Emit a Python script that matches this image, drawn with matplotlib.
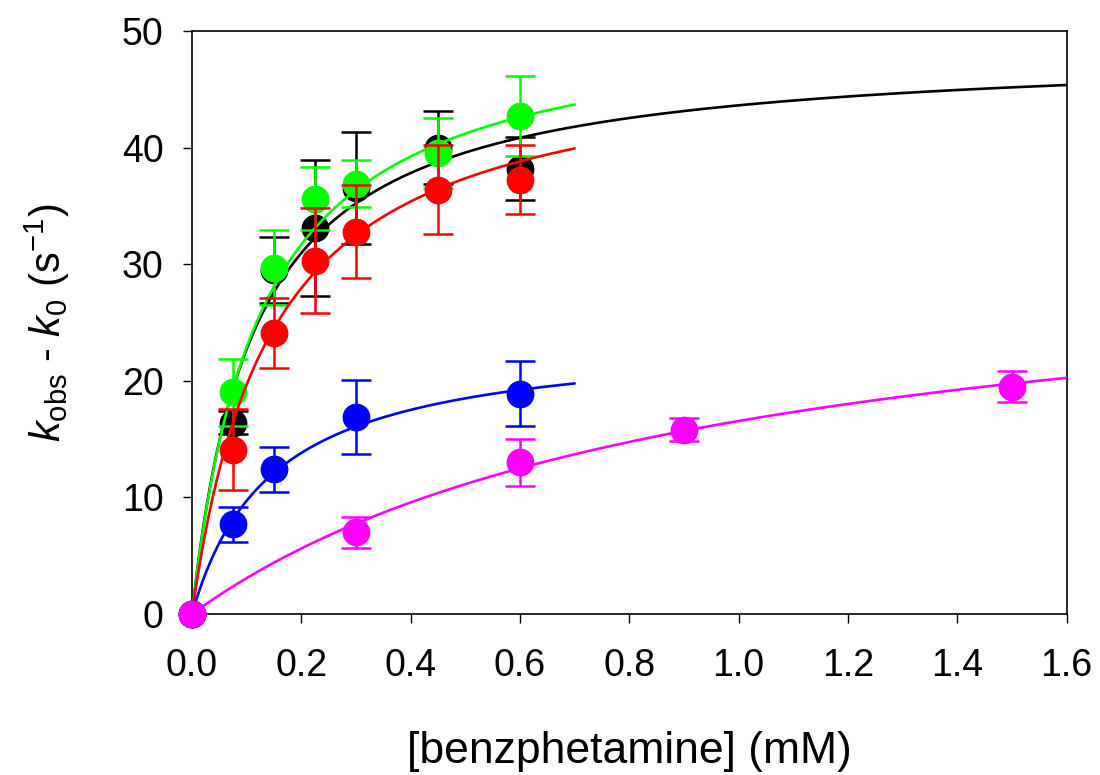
import numpy as np
import matplotlib
matplotlib.use("Agg")
import matplotlib.pyplot as plt

plt.rcParams["font.family"] = ["Liberation Sans", "DejaVu Sans"]
plt.rcParams["mathtext.fontset"] = "custom"
plt.rcParams["mathtext.rm"] = "Liberation Sans"
plt.rcParams["mathtext.it"] = "Liberation Sans:italic"

# substrate concentrations (mM)
conc_full = [0, 0.075, 0.15, 0.225, 0.3, 0.45, 0.6]
conc_blue = [0, 0.075, 0.15, 0.3, 0.6]
conc_magenta = [0, 0.3, 0.6, 0.9, 1.5]

# kobs - k0 (s^-1) and error bars
black_k = [0, 16.4, 29.5, 33.1, 36.5, 40.0, 38.2]
black_err = [0, 1.0, 2.8, 5.8, 4.8, 3.1, 2.7]
green_k = [0, 19.0, 29.7, 35.6, 36.9, 39.5, 42.7]
green_err = [0, 2.9, 3.2, 2.7, 2.0, 3.0, 3.45]
red_k = [0, 14.1, 24.1, 30.3, 32.8, 36.4, 37.25]
red_err = [0, 3.5, 3.0, 4.5, 4.0, 3.8, 2.95]
blue_k = [0, 7.7, 12.4, 16.9, 18.9]
blue_err = [0, 1.5, 1.9, 3.2, 2.8]
magenta_k = [0, 7.0, 13.0, 15.8, 19.5]
magenta_err = [0, 1.35, 2.0, 1.0, 1.3]

# hyperbolic fits: kmax, Km (mM), end of fitted range (mM)
fit_kmax = [48.6, 51.5, 48.2, 23.9, 32.25]
fit_km = [0.114, 0.125, 0.145, 0.146, 0.948]
fit_end = [1.6, 0.7, 0.7, 0.7, 1.6]

series = [
    (conc_full, black_k, black_err, "black"),
    (conc_full, green_k, green_err, "#00ff00"),
    (conc_full, red_k, red_err, "red"),
    (conc_blue, blue_k, blue_err, "blue"),
    (conc_magenta, magenta_k, magenta_err, "magenta"),
]

fig = plt.figure(figsize=(11, 7.75), dpi=100)
ax = fig.add_axes([0.1745, 0.2077, 0.9697 - 0.1745, 0.96 - 0.2077])

for i, (x, y, e, c) in enumerate(series):
    xs = np.linspace(0, fit_end[i], 300)
    ax.plot(xs, fit_kmax[i] * xs / (fit_km[i] + xs), color=c, lw=1.9,
            solid_capstyle="round", zorder=2 + i * 2)
    eb = ax.errorbar(x, y, yerr=e, fmt="o", color=c, ms=19, mec=c, elinewidth=1.8,
                     capsize=11, capthick=1.8, zorder=3 + i * 2)
    eb.lines[0].set_clip_on(False)

ax.set_xlim(0, 1.6)
ax.set_ylim(0, 50)
ax.set_xticks(np.arange(0, 1.61, 0.2))
ax.set_xticklabels([f"{v:.1f}" for v in np.arange(0, 1.61, 0.2)])
ax.set_yticks(range(0, 51, 10))
ax.tick_params(axis="both", direction="out", length=6.5, width=1, labelsize=27)
ax.tick_params(axis="x", pad=18)
ax.tick_params(axis="y", pad=14)
for s in ax.spines.values():
    s.set_linewidth(1.2)

ax.set_xlabel("[benzphetamine] (mM)", fontsize=32, labelpad=34)
ax.set_ylabel(r"$k_{\mathrm{obs}}$ - $k_0$ (s$^{\mathrm{-1}}$)", fontsize=30, labelpad=36)

fig.savefig("out.png", dpi=100)
